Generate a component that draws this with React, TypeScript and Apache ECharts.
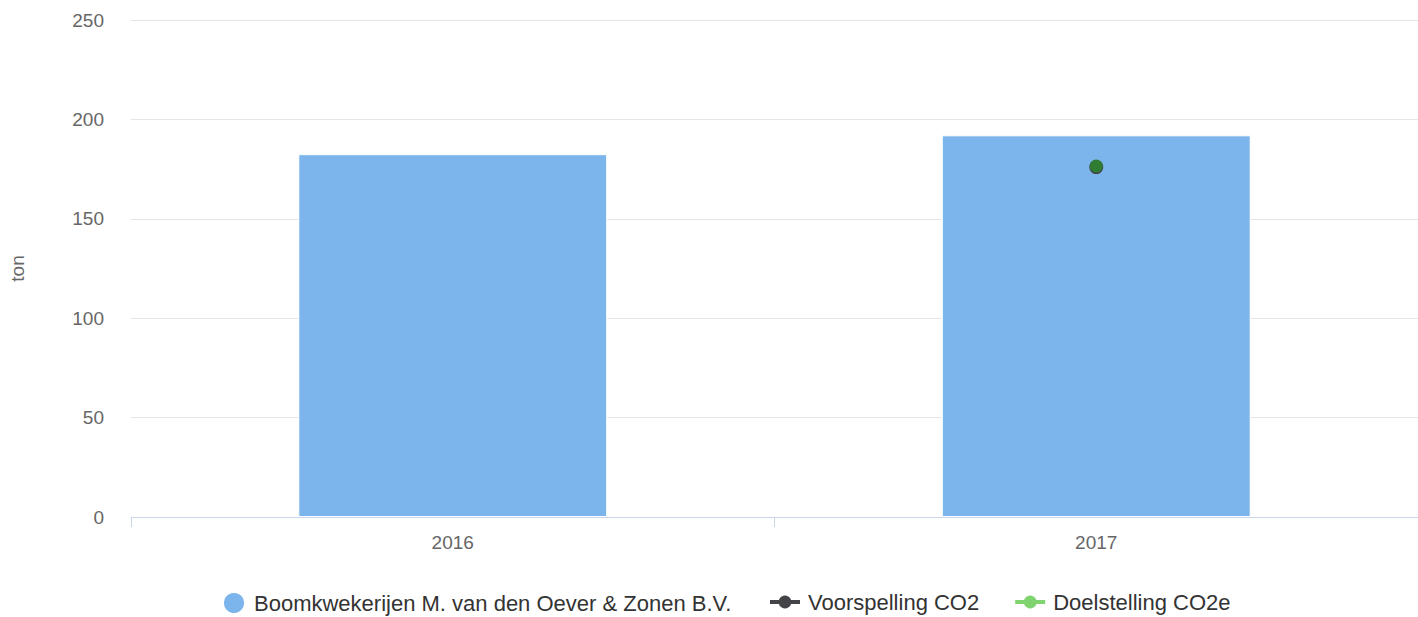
import React, { useEffect, useRef } from "react";
import * as echarts from "echarts";

const categories = ["2016", "2017"];
const barValues = [182.5, 192];
const voorspelling = [null, 176];
const doelstelling = [null, 176.5];
const yTicks = [0, 50, 100, 150, 200, 250];

const barName = "Boomkwekerijen M. van den Oever & Zonen B.V.";
const line1Name = "Voorspelling CO2";
const line2Name = "Doelstelling CO2e";

export default function App() {
  const ref = useRef<HTMLDivElement>(null);
  useEffect(() => {
    if (!ref.current) return;
    const chart = echarts.init(ref.current, undefined, { renderer: "svg" });
    const font = "'Liberation Sans', Arial, Helvetica, sans-serif";
    const legendText = { fontSize: 22, color: "#333333", fontFamily: font };
    chart.setOption({
      animation: false,
      textStyle: { fontFamily: font },
      grid: { left: 131, right: -2, top: 20, bottom: 100 },
      legend: [
        {
          left: 222,
          top: 591,
          padding: 0,
          itemWidth: 30,
          itemHeight: 22,
          itemGap: 36,
          textStyle: legendText,
          data: [{ name: barName, icon: "circle" }],
        },
        {
          left: 768,
          top: 591,
          padding: 0,
          itemWidth: 30,
          itemHeight: 16,
          itemGap: 34,
          textStyle: { ...legendText, padding: [0, 0, 0, 3] },
          lineStyle: { width: 4 },
          data: [{ name: line1Name }, { name: line2Name }],
        },
      ],
      xAxis: {
        type: "category",
        data: categories,
        axisLine: { lineStyle: { color: "#ccd6eb" } },
        axisTick: { show: true, length: 10, lineStyle: { color: "#ccd6eb" } },
        axisLabel: { color: "#666666", fontSize: 19, margin: 16, fontFamily: font },
        splitLine: { show: false },
      },
      yAxis: {
        type: "value",
        min: yTicks[0],
        max: yTicks[yTicks.length - 1],
        interval: 50,
        name: "ton",
        nameLocation: "middle",
        nameGap: 104,
        nameTextStyle: { color: "#666666", fontSize: 19, fontFamily: font },
        axisLine: { show: false },
        axisTick: { show: false },
        axisLabel: { color: "#666666", fontSize: 19, margin: 27, fontFamily: font },
        splitLine: { lineStyle: { color: "#e6e6e6" } },
      },
      series: [
        {
          name: barName,
          type: "bar",
          data: barValues,
          barWidth: "48%",
          itemStyle: { color: "#7cb5ec", borderColor: "#ffffff", borderWidth: 1 },
        },
        {
          name: line1Name,
          type: "line",
          data: voorspelling,
          symbol: "circle",
          symbolSize: 14,
          color: "#434348",
          lineStyle: { width: 3, color: "#434348" },
          itemStyle: { color: "#434348" },
        },
        {
          name: line2Name,
          type: "line",
          data: doelstelling.map((v) =>
            v === null ? null : { value: v, itemStyle: { color: "#2e7d32" } }
          ),
          symbol: "circle",
          symbolSize: 13,
          color: "#7fd46f",
          lineStyle: { width: 3, color: "#7fd46f" },
          itemStyle: { color: "#7fd46f" },
        },
      ],
    });
    return () => chart.dispose();
  }, []);
  return (
    <div
      ref={ref}
      style={{ position: "absolute", left: 0, top: 0, width: 1418, height: 617 }}
    />
  );
}
